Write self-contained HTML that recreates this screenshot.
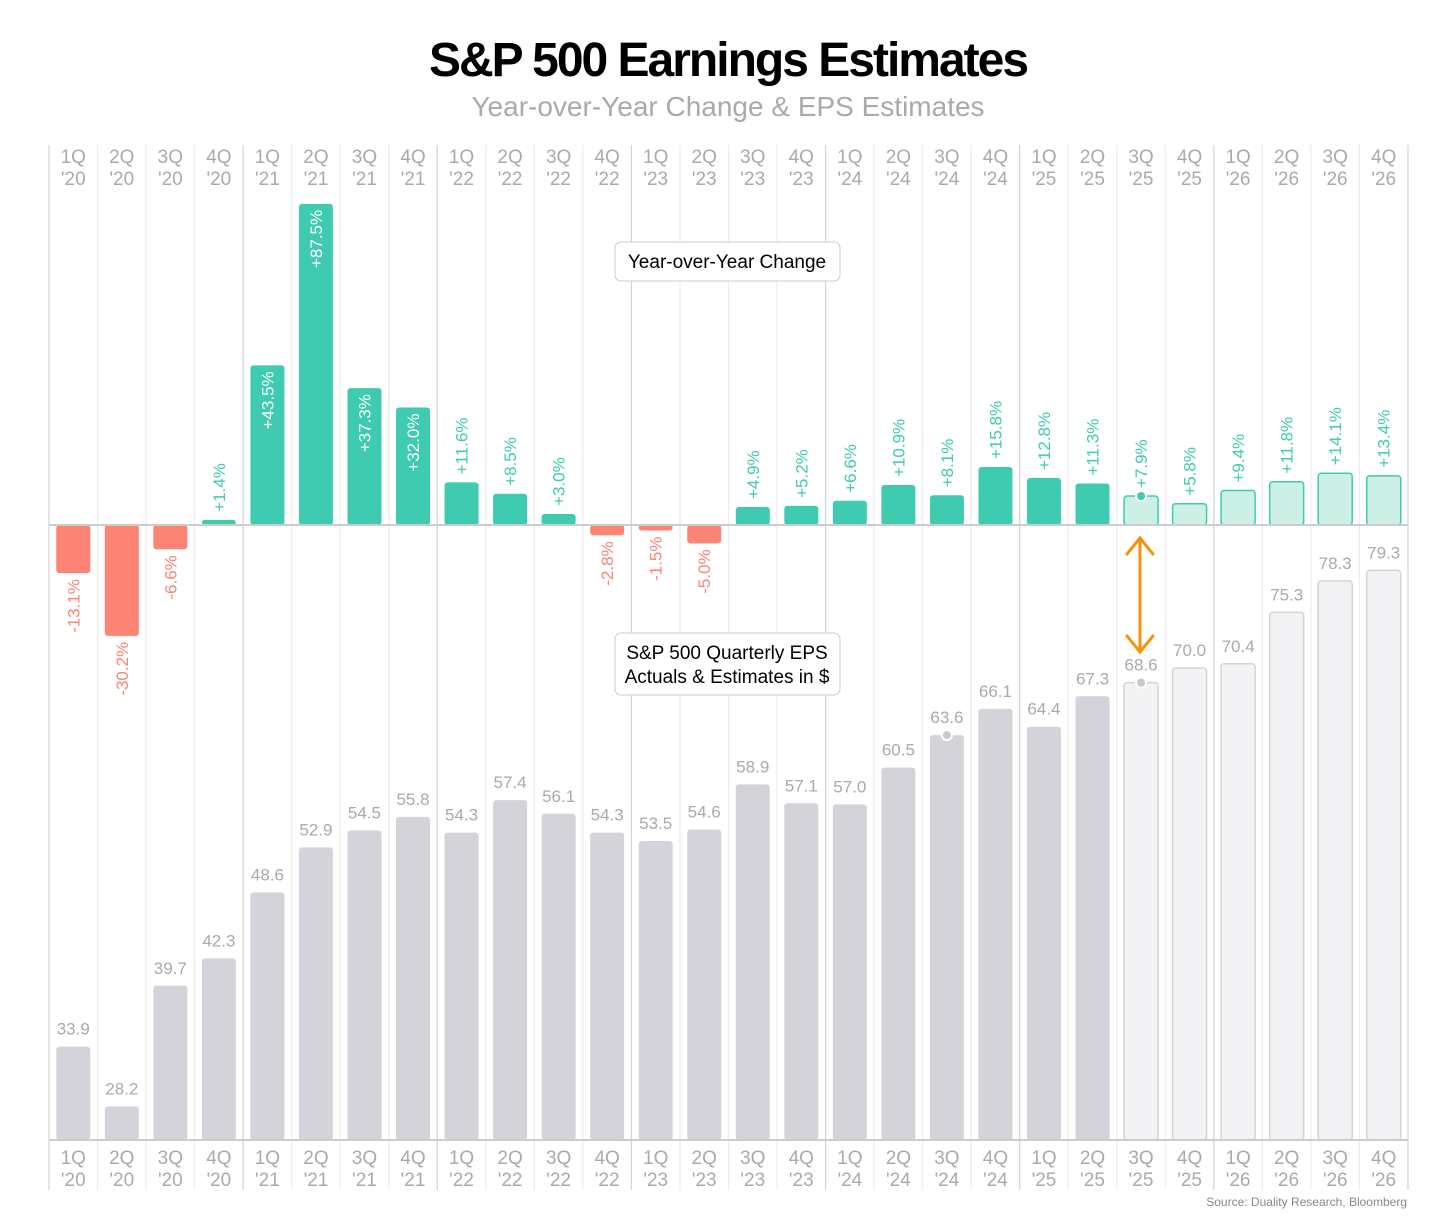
<!DOCTYPE html>
<html><head><meta charset="utf-8"><style>
body{margin:0;background:#fff;font-family:"Liberation Sans",sans-serif}
svg text{font-family:"Liberation Sans",sans-serif}
</style></head><body>
<svg id="c" width="1456" height="1213" xmlns="http://www.w3.org/2000/svg">
<text x="728" y="76" text-anchor="middle" font-size="48" font-weight="bold" fill="#000" letter-spacing="-2">S&amp;P 500 Earnings Estimates</text>
<text x="728" y="116" text-anchor="middle" font-size="28" fill="#aaa">Year-over-Year Change &amp; EPS Estimates</text>
<g id="grid"></g><g id="bars"></g>
<line x1="49" y1="525" x2="1408" y2="525" stroke="#ccc" stroke-width="2"/>
<line x1="49" y1="1140" x2="1408" y2="1140" stroke="#ccc" stroke-width="2"/>
<g><rect x="615" y="242" width="225" height="39" rx="6" fill="#fff" stroke="#ccc"/><text x="727" y="268" text-anchor="middle" font-size="19" fill="#000">Year-over-Year Change</text></g>
<g><rect x="615" y="633" width="225" height="62" rx="6" fill="#fff" stroke="#ccc"/><text x="727" y="659" text-anchor="middle" font-size="19" fill="#000">S&amp;P 500 Quarterly EPS</text><text x="727" y="683" text-anchor="middle" font-size="19" fill="#000">Actuals &amp; Estimates in $</text></g>
<g stroke="#f7930a" stroke-width="3" fill="none" stroke-linecap="round"><line x1="1140" y1="538" x2="1140" y2="652"/><polyline points="1127,554 1140,538 1153,554"/><polyline points="1127,636 1140,652 1153,636"/></g>
<text x="1407" y="1206" text-anchor="end" font-size="12" fill="#888">Source: Duality Research, Bloomberg</text>
</svg>
<script>
const quarters=["1Q","2Q","3Q","4Q","1Q","2Q","3Q","4Q","1Q","2Q","3Q","4Q","1Q","2Q","3Q","4Q","1Q","2Q","3Q","4Q","1Q","2Q","3Q","4Q","1Q","2Q","3Q","4Q"];
const years=["'20","'20","'20","'20","'21","'21","'21","'21","'22","'22","'22","'22","'23","'23","'23","'23","'24","'24","'24","'24","'25","'25","'25","'25","'26","'26","'26","'26"];
const yoy=[-13.1,-30.2,-6.6,1.4,43.5,87.5,37.3,32.0,11.6,8.5,3.0,-2.8,-1.5,-5.0,4.9,5.2,6.6,10.9,8.1,15.8,12.8,11.3,7.9,5.8,9.4,11.8,14.1,13.4];
const eps=[33.9,28.2,39.7,42.3,48.6,52.9,54.5,55.8,54.3,57.4,56.1,54.3,53.5,54.6,58.9,57.1,57.0,60.5,63.6,66.1,64.4,67.3,68.6,70.0,70.4,75.3,78.3,79.3];
const firstEstimate=22;
const ns="http://www.w3.org/2000/svg";
const X0=49,CW=(1408-49)/28,BW=34;
const cx=i=>X0+CW*(i+0.5);
const yY=v=>525-v*3.67;
const yE=v=>1140-(v-25)*10.49;
const grid=document.getElementById('grid'),bars=document.getElementById('bars');
function mk(tag,attrs,parent){const e=document.createElementNS(ns,tag);for(const k in attrs)e.setAttribute(k,attrs[k]);parent.appendChild(e);return e;}
for(let i=0;i<=28;i++){
  const x=X0+CW*i;
  const l=mk('line',{x1:x,x2:x,y1:145,y2:1190,stroke:i%4==0?'#d4d4d4':'#ececec','stroke-width':1.2},grid);
  
  
}
function rbar(x,y1,y2,fill,stroke,name){
  const top=Math.min(y1,y2),h=Math.abs(y2-y1);
  const r=mk('rect',{x:x-BW/2,y:top,width:BW,height:Math.max(h,1),rx:3,fill:fill},bars);
  if(stroke){r.setAttribute('stroke',stroke);r.setAttribute('stroke-width',1.5);}
  
  
}
quarters.forEach((q,i)=>{
  const x=cx(i),est=i>=firstEstimate;
  [163,1164].forEach((ty,k)=>{
    const t=mk('text',{x:x,y:ty,'text-anchor':'middle','font-size':19,fill:'#aaa'},grid);
    t.textContent=q;
    
    
    const t2=mk('text',{x:x,y:ty+22,'text-anchor':'middle','font-size':19,fill:'#aaa'},grid);
    t2.textContent=years[i];
    
    
  });
  const v=yoy[i],y=yY(v);
  const pos=v>=0;
  const fill=pos?(est?'#cdf0e6':'#3ecbb0'):'#fb8474';
  rbar(x,525,y,fill,est?'#3ecbb0':null,'yoy-bar');
  const lab=(pos?'+':'')+v.toFixed(1)+'%';
  let ly,anchor,col;
  if(pos&&v>25){ly=y+6;anchor='end';col='#fff';}
  else if(pos){ly=y-8;anchor='start';col='#3ecbb0';}
  else {ly=y+6;anchor='end';col='#fb8474';}
  const t=mk('text',{x:0,y:0,'text-anchor':anchor,'font-size':17,fill:col,transform:`translate(${x+6},${ly}) rotate(-90)`},bars);
  t.textContent=lab;
  
  
  const e=eps[i],ey=yE(e);
  rbar(x,1140,ey,est?'#f3f3f5':'#d3d3d9',est?'#d3d3d9':null,'eps-bar');
  const et=mk('text',{x:x,y:ey-12,'text-anchor':'middle','font-size':17,fill:'#aaa'},bars);
  et.textContent=e.toFixed(1);
  
  
});
[[18,'eps'],[22,'eps'],[22,'yoy']].forEach(([i,s])=>{
  const y=s=='eps'?yE(eps[i]):yY(yoy[i]);
  const c=mk('circle',{cx:cx(i),cy:y,r:5,fill:s=='eps'?'#c8c8ce':'#3ecbb0',stroke:'#fff','stroke-width':2},bars);
  
  
});
</script>
</body></html>
